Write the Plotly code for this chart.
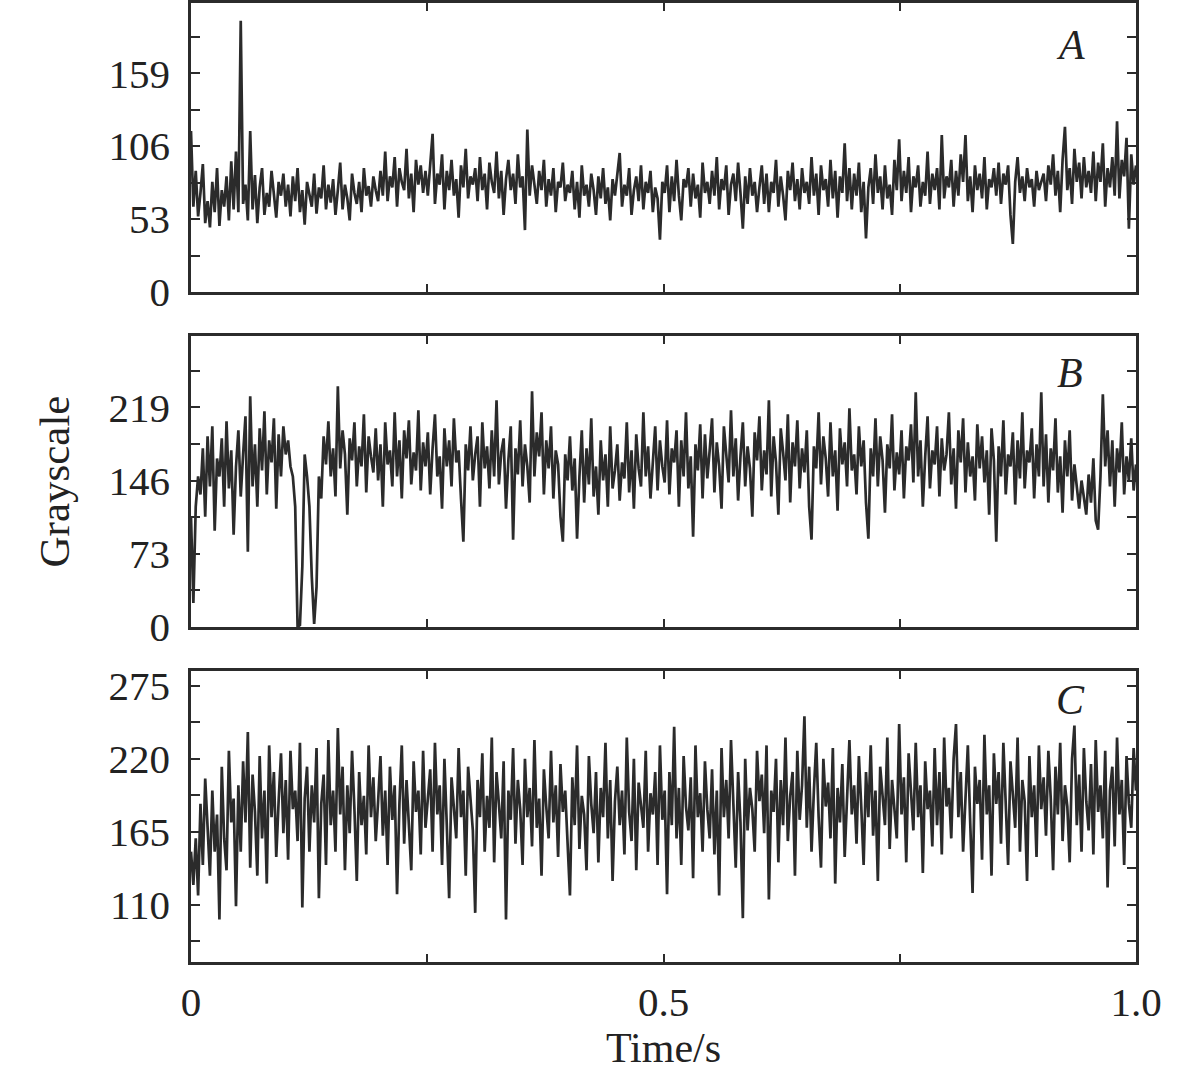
"""Grayscale vs. time for three regions (A, B, C) - stacked Plotly line panels."""

import numpy as np
import plotly.graph_objects as go
from plotly.subplots import make_subplots

GRAY_A = [
    117, 62, 88, 55, 72, 93, 50, 66, 47, 80, 58, 90, 48, 74, 62, 84, 52, 95, 60, 102,
    58, 197, 64, 78, 52, 117, 60, 85, 50, 76, 90, 56, 72, 62, 88, 68, 54, 80, 70, 86,
    62, 78, 55, 84, 66, 90, 58, 74, 49, 80, 70, 62, 86, 57, 76, 68, 92, 60, 78, 65,
    82, 56, 74, 94, 60, 78, 68, 52, 86, 72, 64, 80, 58, 90, 70, 77, 62, 84, 74, 66,
    88, 70, 102, 66, 84, 76, 98, 62, 90, 80, 74, 104, 68, 86, 58, 96, 78, 92, 72, 88,
    70, 94, 115, 64, 86, 78, 100, 60, 88, 74, 96, 70, 82, 54, 92, 76, 104, 68, 84, 78,
    90, 66, 98, 74, 86, 60, 94, 80, 72, 102, 68, 88, 56, 82, 96, 74, 86, 64, 100, 76,
    84, 45, 118, 70, 92, 78, 64, 88, 74, 96, 62, 82, 70, 90, 58, 80, 76, 94, 66, 78,
    72, 88, 60, 80, 54, 92, 70, 78, 62, 86, 74, 56, 84, 68, 90, 64, 76, 52, 82, 70,
    86, 101, 62, 78, 70, 90, 56, 74, 84, 66, 92, 60, 80, 72, 88, 58, 76, 68, 38, 80,
    72, 92, 58, 84, 66, 96, 70, 52, 82, 76, 90, 62, 86, 68, 78, 54, 94, 72, 80, 64,
    88, 70, 98, 60, 82, 74, 92, 56, 78, 86, 66, 94, 72, 46, 84, 64, 90, 70, 80, 58,
    76, 92, 64, 86, 58, 80, 72, 96, 62, 84, 70, 52, 88, 74, 94, 66, 82, 60, 90, 72,
    80, 64, 98, 70, 86, 56, 92, 74, 82, 62, 96, 68, 88, 54, 84, 72, 108, 66, 90, 60,
    86, 70, 94, 58, 80, 39, 76, 90, 64, 100, 72, 84, 60, 92, 68, 78, 56, 96, 74, 111,
    66, 88, 72, 98, 58, 84, 76, 92, 62, 80, 70, 102, 64, 86, 74, 90, 60, 114, 68, 84,
    76, 96, 62, 88, 70, 100, 80, 114, 66, 84, 58, 92, 74, 86, 68, 98, 60, 82, 76, 90,
    70, 94, 64, 86, 78, 92, 56, 35, 80, 98, 72, 84, 66, 90, 76, 82, 62, 88, 74, 80,
    86, 66, 92, 78, 100, 70, 88, 58, 96, 120, 74, 90, 64, 104, 80, 94, 68, 98, 76, 88,
    72, 102, 66, 94, 80, 108, 62, 90, 76, 98, 70, 124, 68, 96, 84, 112, 46, 100, 78, 92,
]

GRAY_B = [
    110, 24, 120, 150, 132, 178, 110, 190, 140, 200, 96, 168, 150, 188, 120, 205, 138, 176, 92, 160,
    196, 130, 172, 210, 75, 230, 140, 182, 120, 198, 156, 215, 132, 186, 164, 208, 118, 192, 150, 200,
    172, 186, 160, 150, 120, 0, 2, 60, 172, 150, 120, 50, 3, 40, 150, 128, 190, 162, 205, 150,
    178, 130, 240, 158, 196, 172, 112, 188, 166, 204, 140, 180, 160, 212, 134, 190, 170, 154, 198, 146,
    182, 120, 204, 162, 176, 140, 214, 150, 186, 128, 196, 168, 206, 142, 174, 156, 216, 136, 184, 160,
    194, 132, 178, 212, 150, 170, 118, 198, 160, 186, 140, 208, 164, 176, 128, 85, 182, 156, 200, 146,
    172, 190, 120, 204, 158, 180, 138, 196, 150, 226, 142, 174, 188, 118, 166, 200, 87, 178, 152, 206,
    140, 182, 160, 124, 235, 150, 194, 170, 214, 132, 186, 158, 200, 128, 176, 162, 110, 85, 172, 146,
    190, 136, 168, 88, 150, 196, 124, 178, 142, 208, 130, 160, 112, 186, 146, 172, 120, 200, 138, 156,
    182, 126, 164, 148, 204, 134, 176, 118, 192, 158, 140, 214, 150, 180, 128, 170, 200, 136, 186, 160,
    144, 206, 132, 178, 164, 196, 120, 186, 150, 214, 138, 170, 90, 182, 156, 202, 128, 192, 148, 176,
    208, 134, 184, 160, 118, 200, 172, 144, 216, 150, 188, 126, 170, 204, 140, 180, 158, 110, 194, 166,
    210, 136, 176, 152, 226, 130, 190, 164, 112, 198, 174, 146, 212, 124, 184, 160, 206, 138, 178, 154,
    196, 120, 87, 180, 158, 214, 142, 190, 168, 130, 204, 150, 176, 116, 198, 162, 184, 140, 218, 156,
    172, 132, 200, 160, 186, 124, 88, 178, 150, 208, 140, 190, 166, 114, 182, 158, 212, 136, 174, 152,
    196, 128, 180, 166, 202, 144, 234, 150, 186, 120, 170, 210, 138, 176, 162, 200, 130, 188, 156, 172,
    214, 142, 178, 118, 196, 164, 208, 134, 184, 150, 170, 126, 202, 158, 190, 144, 176, 112, 198, 166,
    85, 180, 150, 206, 132, 172, 160, 194, 122, 186, 148, 214, 138, 176, 164, 198, 128, 182, 150, 234,
    140, 192, 124, 178, 156, 208, 134, 170, 114, 186, 150, 196, 126, 162, 140, 118, 146, 130, 112, 152,
    124, 168, 106, 97, 150, 232, 160, 196, 140, 186, 120, 178, 154, 204, 132, 170, 146, 188, 136, 162,
]

GRAY_C = [
    150, 125, 160, 117, 186, 140, 205, 168, 132, 196, 150, 178, 99, 214, 160, 136, 226, 172, 190, 109,
    200, 150, 218, 172, 240, 138, 208, 180, 132, 222, 160, 196, 126, 230, 176, 210, 146, 188, 224, 164,
    204, 144, 226, 182, 196, 158, 232, 108, 190, 214, 150, 200, 172, 228, 115, 186, 208, 140, 234, 170,
    196, 150, 243, 178, 214, 136, 200, 164, 226, 182, 128, 210, 170, 192, 148, 230, 176, 206, 158, 188,
    222, 162, 196, 140, 214, 174, 200, 118, 186, 230, 156, 204, 170, 136, 218, 180, 196, 148, 226, 168,
    190, 212, 150, 232, 178, 200, 140, 220, 170, 115, 206, 184, 160, 228, 176, 196, 132, 214, 186, 166,
    104, 204, 176, 224, 150, 192, 168, 236, 142, 210, 186, 160, 218, 99, 196, 174, 228, 156, 204, 182,
    140, 220, 176, 198, 154, 234, 168, 190, 132, 212, 184, 160, 226, 172, 200, 146, 216, 180, 196, 158,
    117, 206, 170, 230, 152, 192, 178, 136, 222, 186, 164, 210, 142, 198, 176, 232, 160, 204, 128, 188,
    214, 170, 196, 148, 236, 180, 158, 220, 136, 202, 186, 168, 226, 150, 194, 178, 210, 140, 230, 174,
    196, 118, 210, 170, 244, 160, 198, 140, 222, 184, 166, 206, 130, 230, 176, 194, 150, 218, 182, 160,
    212, 148, 196, 117, 228, 176, 204, 160, 234, 186, 138, 210, 172, 100, 220, 166, 198, 182, 150, 226,
    188, 208, 164, 230, 114, 196, 180, 220, 142, 204, 170, 236, 158, 192, 210, 132, 226, 174, 200, 252,
    168, 214, 150, 196, 232, 176, 138, 220, 184, 202, 160, 228, 126, 198, 172, 216, 146, 190, 234, 178,
    200, 156, 222, 184, 140, 210, 176, 230, 162, 196, 128, 214, 188, 170, 236, 152, 204, 180, 160, 246,
    178, 206, 142, 224, 190, 166, 232, 176, 200, 134, 218, 182, 196, 154, 228, 170, 210, 148, 236, 184,
    198, 160, 220, 246, 176, 210, 150, 194, 230, 172, 119, 214, 186, 204, 144, 238, 178, 200, 132, 224,
    186, 210, 156, 232, 180, 140, 218, 196, 168, 236, 150, 204, 188, 128, 222, 176, 200, 146, 230, 182,
    206, 162, 226, 190, 136, 214, 178, 232, 158, 200, 184, 142, 220, 245, 170, 208, 150, 228, 188, 166,
    216, 148, 234, 180, 200, 160, 226, 123, 196, 214, 154, 236, 178, 204, 140, 222, 186, 168, 228, 196,
]

PANEL_LABELS = ["A", "B", "C"]

# y ticks per panel (labelled ones + unlabelled minor ones in between)
YTICKS_A = [0, 26.5, 53, 79.5, 106, 132.5, 159, 185.5]
YLABELS_A = ["0", "", "53", "", "106", "", "159", ""]
YTICKS_B = [0, 36.5, 73, 109.5, 146, 182.5, 219, 255.5]
YLABELS_B = ["0", "", "73", "", "146", "", "219", ""]
YTICKS_C = [82.5, 110, 137.5, 165, 192.5, 220, 247.5, 275]
YLABELS_C = ["", "110", "", "165", "", "220", "", "275"]

XTICKS = [0, 0.25, 0.5, 0.75, 1.0]
XLABELS = ["0", "", "0.5", "", "1.0"]

LINE_COLOR = "#2b2b2b"
TEXT_COLOR = "#222222"
FONT = "Liberation Serif"

W, H = 1181, 1079
M_L, M_R, M_T, M_B = 191, 45, 3, 117

fig = make_subplots(rows=3, cols=1, shared_xaxes=False, vertical_spacing=0.046)

series = [GRAY_A, GRAY_B, GRAY_C]
for row, vals in enumerate(series, start=1):
    n = len(vals)
    t = np.arange(n) / (n - 1)  # sample times over 1 s
    fig.add_trace(go.Scatter(
        x=t, y=vals,
        mode="lines",
        line=dict(color=LINE_COLOR, width=2.7),
        hoverinfo="skip",
        showlegend=False,
    ), row=row, col=1)

axis_common = dict(
    showline=True, linecolor=LINE_COLOR, linewidth=2.5, mirror="ticks",
    ticks="inside", tickcolor=LINE_COLOR, tickwidth=2,
    showgrid=False, zeroline=False, automargin=False,
    tickfont=dict(family=FONT, size=41, color=TEXT_COLOR),
)

plot_h = H - M_T - M_B
doms = [(292, 3), (627, 336), (962, 671)]  # (bottom, top) pixel rows of each panel
yranges = [[0, 210], [0, 290], [67, 286]]
yticks = [(YTICKS_A, YLABELS_A), (YTICKS_B, YLABELS_B), (YTICKS_C, YLABELS_C)]

for i in range(3):
    bot, top = doms[i]
    dom = [(H - M_B - bot) / plot_h, (H - M_B - top) / plot_h]
    yname = "yaxis" if i == 0 else f"yaxis{i + 1}"
    xname = "xaxis" if i == 0 else f"xaxis{i + 1}"
    fig.layout[yname].update(
        domain=dom, range=yranges[i], autorange=False,
        tickvals=yticks[i][0], ticktext=yticks[i][1],
        ticklen=9, ticklabelstandoff=10, **axis_common,
    )
    fig.layout[xname].update(
        range=[0, 1], autorange=False,
        tickvals=XTICKS, ticktext=XLABELS,
        ticklen=8, showticklabels=(i == 2), ticklabelstandoff=2,
        **axis_common,
    )

fig.update_layout(
    yaxis2_title=dict(text="Grayscale", font=dict(family=FONT, size=43, color=TEXT_COLOR), standoff=26),
    xaxis3_title=dict(text="Time/s", font=dict(family=FONT, size=42, color=TEXT_COLOR), standoff=0),
)

label_y = [45, 373, 700]
for lab, yy in zip(PANEL_LABELS, label_y):
    fig.add_annotation(
        text=f"<i>{lab}</i>", xref="paper", yref="paper",
        x=(1070 - M_L) / (W - M_L - M_R), y=(H - M_B - yy) / plot_h,
        showarrow=False, xanchor="center", yanchor="middle",
        font=dict(family=FONT, size=42, color=TEXT_COLOR),
    )

fig.update_layout(
    width=W, height=H,
    margin=dict(l=M_L, r=M_R, t=M_T, b=M_B, autoexpand=False),
    plot_bgcolor="white", paper_bgcolor="white",
    font=dict(family=FONT, color=TEXT_COLOR),
)

# drop the browser's default page margin so the figure sits at the window origin
fig.write_html(
    "out.html",
    config={"displayModeBar": False},
    post_script="document.body.style.margin='0';",
)
